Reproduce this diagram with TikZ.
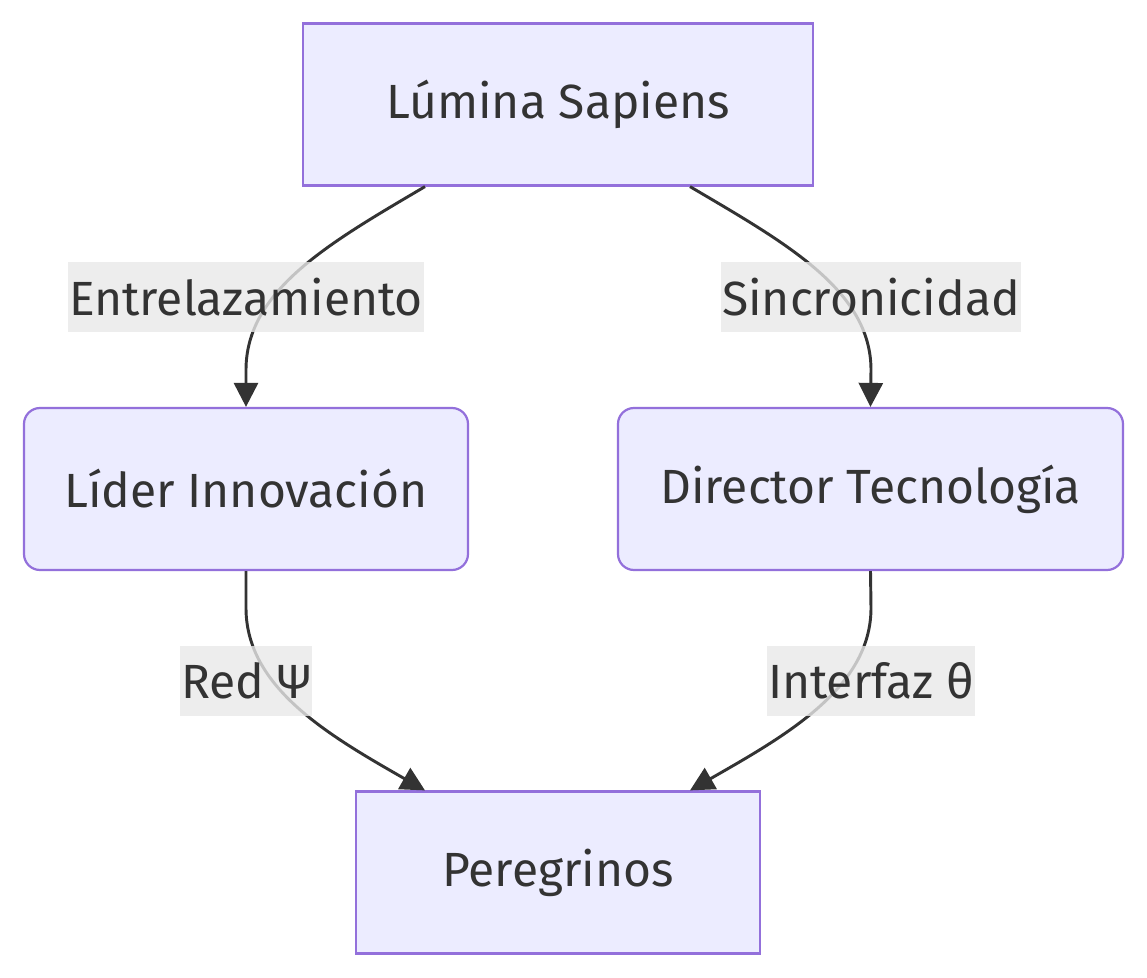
\documentclass[tikz,border=0pt]{standalone}
\usepackage{fontspec}
\setmainfont{Fira Sans}
\usetikzlibrary{arrows.meta}
\definecolor{nodefill}{HTML}{ECECFF}
\definecolor{nodeline}{HTML}{9370DB}
\definecolor{ink}{HTML}{333333}
\definecolor{labelbg}{HTML}{E8E8E8}
\newlength{\px}
\setlength{\px}{0.75pt}
\newcommand*{\boxht}{162\px}
\newcommand*{\fontsz}{\fontsize{36}{43}\selectfont}

\begin{document}
\begin{tikzpicture}[x=0.75pt, y=-0.75pt, font=\fontsz, text=ink,
    box/.style={draw=nodeline, fill=nodefill, line width=2.2\px, minimum height=\boxht, inner sep=0pt},
    roundbox/.style={box, rounded corners=16\px},
    lbl/.style={fill=labelbg, fill opacity=0.8, text opacity=1, inner xsep=1\px, inner ysep=0pt, minimum height=70\px},
    link/.style={draw=ink, line width=2.2pt, -{Triangle[length=18pt, width=18pt]}}]
    \useasboundingbox (0,0) rectangle (1147,978);
    % nodes
    \node [box, minimum width=510\px]      (lumina)   at (558,104.5) {Lúmina Sapiens};
    \node [roundbox, minimum width=444\px] (lider)    at (246,489)   {Líder Innovación};
    \node [roundbox, minimum width=505\px] (director) at (870.5,489) {Director Tecnología};
    \node [box, minimum width=404\px]      (peregrinos) at (558,872.5) {Peregrinos};
    % connectors
    \draw [link] ([xshift=-99.75pt]lumina.south) .. controls +(-95,56) and (246,290) .. (246,370) -- (lider.north);
    \draw [link] ([xshift=99pt]lumina.south) .. controls +(95,56) and (871,290) .. (871,370) -- (director.north);
    \draw [link] (lider.south) -- (246,608) .. controls (246,688) and (330,736) .. ([xshift=-99.75pt]peregrinos.north);
    \draw [link] (director.south) -- (871,608) .. controls (871,688) and (785,736) .. ([xshift=99pt]peregrinos.north);
    % labels
    \node [lbl] (lbl1) at (246,297) {Entrelazamiento};
    \node [lbl] (lbl2) at (871,297) {Sincronicidad};
    \node [lbl] (lbl3) at (246,681) {Red Ψ};
    \node [lbl] (lbl4) at (871,681) {Interfaz θ};
\end{tikzpicture}
\end{document}
